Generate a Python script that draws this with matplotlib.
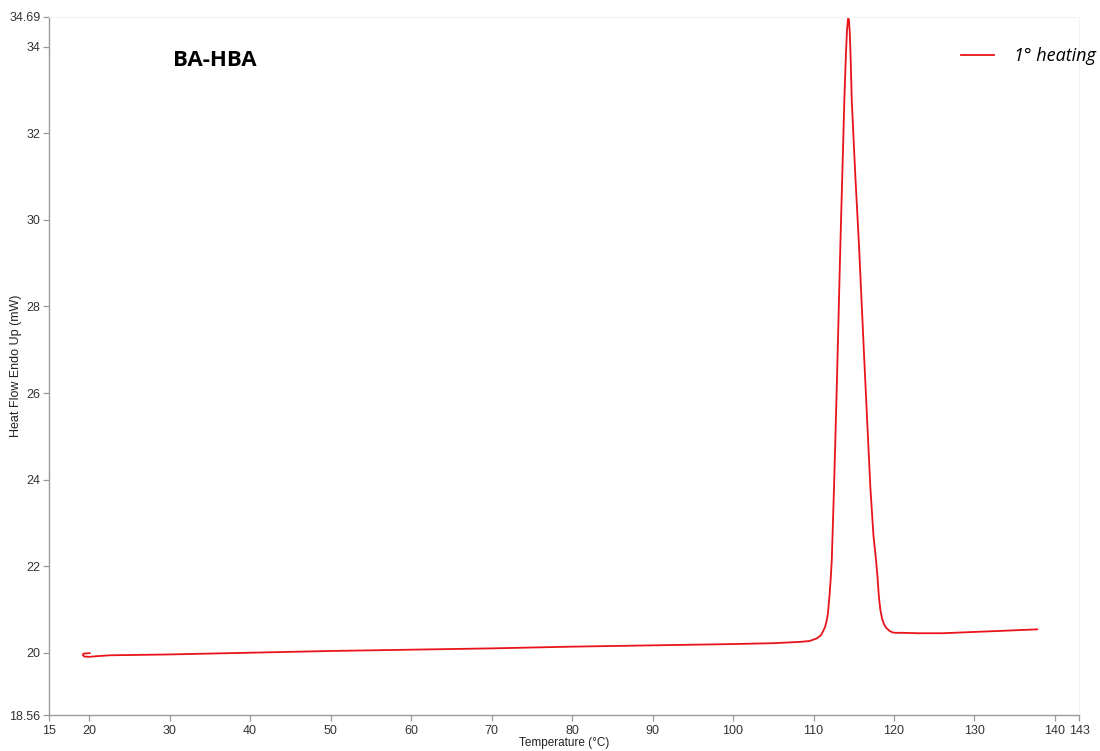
import matplotlib.pyplot as plt

# DSC trace (temperature in °C, heat flow in mW)
temperature = [20.05, 19.3, 19.2, 19.4, 20.0, 21.0, 22.5, 30, 40, 50, 60, 70, 80, 90,
               100, 105, 108.3, 109.5, 110.4, 110.9, 111.2, 111.43, 111.65, 111.8, 112.0,
               112.15, 112.27, 112.55, 112.9, 113.33, 113.6, 113.83, 114.0, 114.15,
               114.27, 114.33, 114.4, 114.5, 114.62, 114.75, 115.2, 115.66, 116.3,
               117.06, 117.45, 117.77, 117.95, 118.12, 118.3, 118.5, 118.75, 119.01,
               119.4, 119.8, 120.13, 121, 123, 126, 130, 134, 137.8]
heat_flow = [19.99, 19.98, 19.95, 19.91, 19.905, 19.92, 19.94, 19.96, 20.0, 20.04, 20.07,
             20.1, 20.14, 20.17, 20.2, 20.22, 20.25, 20.27, 20.33, 20.4, 20.5, 20.59,
             20.75, 20.92, 21.35, 21.75, 22.14, 23.83, 26.2, 29.38, 31.2, 32.77, 33.7,
             34.35, 34.62, 34.66, 34.62, 34.35, 33.7, 32.77, 31.0, 29.38, 26.8, 23.83,
             22.7, 22.14, 21.75, 21.3, 21.0, 20.8, 20.66, 20.58, 20.51, 20.47, 20.46,
             20.46, 20.45, 20.45, 20.48, 20.51, 20.54]

x_ticks = [15, 20, 30, 40, 50, 60, 70, 80, 90, 100, 110, 120, 130, 140, 143]
y_ticks = [18.56, 20, 22, 24, 26, 28, 30, 32, 34, 34.69]

fig = plt.figure(figsize=(11, 7.51), dpi=100)
ax = fig.add_axes([0.0445, 0.0479, 0.9365, 0.9295])

ax.plot(temperature, heat_flow, color='#e8141b', lw=1.3, label='1° heating')

ax.set_xlim(15, 143)
ax.set_ylim(18.56, 34.69)
ax.set_xticks(x_ticks)
ax.set_xticklabels([str(t) for t in x_ticks])
ax.set_yticks(y_ticks)
ax.set_yticklabels([f"{t:g}" for t in y_ticks])

for s in ['left', 'bottom']:
    ax.spines[s].set_color('#999999')
    ax.spines[s].set_linewidth(1.0)
for s in ['top', 'right']:
    ax.spines[s].set_color('#f2f2f2')
    ax.spines[s].set_linewidth(0.8)

ax.tick_params(axis='both', direction='out', length=4, width=0.9, color='#999999',
               labelsize=9, labelcolor='#333333', pad=2)
ax.tick_params(axis='x', pad=3.5)
for lab in ax.get_xticklabels() + ax.get_yticklabels():
    lab.set_family('Liberation Sans')

ax.set_xlabel('Temperature (°C)', fontsize=8.5, family='Liberation Sans', color='#222222')
ax.set_ylabel('Heat Flow Endo Up (mW)', fontsize=9, family='Liberation Sans', color='#222222')
ax.xaxis.set_label_coords(0.5, -0.032)
ax.yaxis.set_label_coords(-0.026, 0.5)

ax.text(0.12, 0.938, 'BA-HBA', transform=ax.transAxes, fontsize=16,
        fontweight='bold', family='Open Sans', va='center', ha='left')

leg = ax.legend(loc='center left', bbox_to_anchor=(0.874, 0.9254),
                bbox_transform=fig.transFigure, frameon=False,
                borderaxespad=0, borderpad=0, handlelength=1.8,
                handletextpad=1.1, prop={'family': 'Open Sans', 'style': 'italic', 'size': 13})

fig.savefig('out.png', dpi=100)
